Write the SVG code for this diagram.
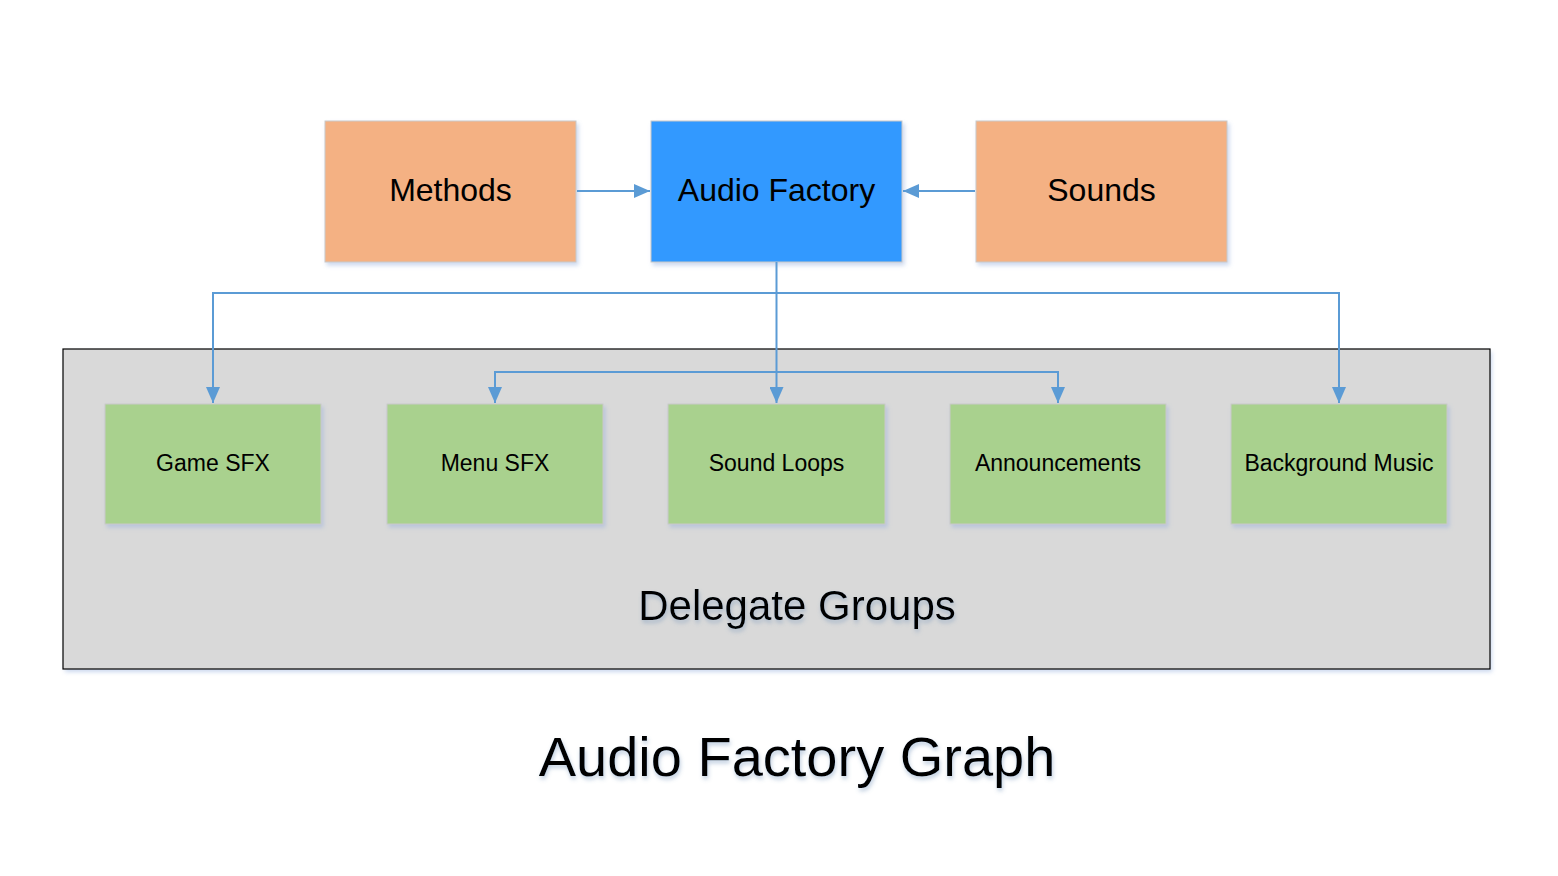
<svg xmlns="http://www.w3.org/2000/svg" width="1558" height="876" viewBox="0 0 1558 876">
<defs>
<filter id="sh" x="-10%" y="-10%" width="120%" height="130%">
<feDropShadow dx="2" dy="3" stdDeviation="2" flood-color="#8EA9DB" flood-opacity="0.45"/>
</filter>
<filter id="tsh" x="-10%" y="-20%" width="120%" height="150%">
<feDropShadow dx="1" dy="3" stdDeviation="2" flood-color="#6E8FB8" flood-opacity="0.45"/>
</filter>
<marker id="ah" viewBox="0 0 16 14" refX="16" refY="7" markerWidth="16" markerHeight="14" markerUnits="userSpaceOnUse" orient="auto">
<path d="M0,0 L16,7 L0,14 Z" fill="#5B9BD5"/>
</marker>
</defs>
<style>
.box{stroke:#C9C9C9;stroke-width:1;filter:url(#sh)}
.or{fill:#F4B183}
.bl{fill:#3399FF}
.gr{fill:#A9D18E}
.t{font-family:"Liberation Sans",Arial,sans-serif;fill:#000;text-anchor:middle}
.big{font-size:32px}
.sm{font-size:23px}
.conn{fill:none;stroke:#5B9BD5;stroke-width:2}
</style>
<rect width="1558" height="876" fill="#FFFFFF"/>
<g id="delegate-groups">
<rect x="63" y="349" width="1427" height="320" fill="#D9D9D9" filter="url(#sh)"/>
<rect x="63" y="349" width="1427" height="320" fill="none" stroke="#000" stroke-width="1.2"/>
<text class="t" x="797" y="620" font-size="42" filter="url(#tsh)">Delegate Groups</text>
</g>
<g id="methods">
<rect class="box or" x="325" y="121" width="251" height="141"/>
<text class="t big" x="450.5" y="201">Methods</text>
</g>
<g id="audio-factory">
<rect class="box bl" x="651" y="121" width="251" height="141"/>
<text class="t big" x="776.5" y="201">Audio Factory</text>
</g>
<g id="sounds">
<rect class="box or" x="976" y="121" width="251" height="141"/>
<text class="t big" x="1101.5" y="201">Sounds</text>
</g>
<g id="game-sfx">
<rect class="box gr" x="105" y="404" width="216" height="120"/>
<text class="t sm" x="213" y="471">Game SFX</text>
</g>
<g id="menu-sfx">
<rect class="box gr" x="387" y="404" width="216" height="120"/>
<text class="t sm" x="495" y="471">Menu SFX</text>
</g>
<g id="sound-loops">
<rect class="box gr" x="668" y="404" width="217" height="120"/>
<text class="t sm" x="776.5" y="471">Sound Loops</text>
</g>
<g id="announcements">
<rect class="box gr" x="950" y="404" width="216" height="120"/>
<text class="t sm" x="1058" y="471">Announcements</text>
</g>
<g id="background-music">
<rect class="box gr" x="1231" y="404" width="216" height="120"/>
<text class="t sm" x="1339" y="471">Background Music</text>
</g>
<g id="connectors">
<path class="conn" d="M577,191 L650,191" marker-end="url(#ah)"/>
<path class="conn" d="M975,191 L903,191" marker-end="url(#ah)"/>
<path class="conn" d="M776.5,262 L776.5,403" marker-end="url(#ah)"/>
<path class="conn" d="M776.5,293 L213,293 L213,403" marker-end="url(#ah)"/>
<path class="conn" d="M776.5,293 L1339,293 L1339,403" marker-end="url(#ah)"/>
<path class="conn" d="M776.5,372 L495,372 L495,403" marker-end="url(#ah)"/>
<path class="conn" d="M776.5,372 L1058,372 L1058,403" marker-end="url(#ah)"/>
</g>
<g id="title">
<text class="t" x="797" y="776" font-size="56" filter="url(#tsh)">Audio Factory Graph</text>
</g>
</svg>
